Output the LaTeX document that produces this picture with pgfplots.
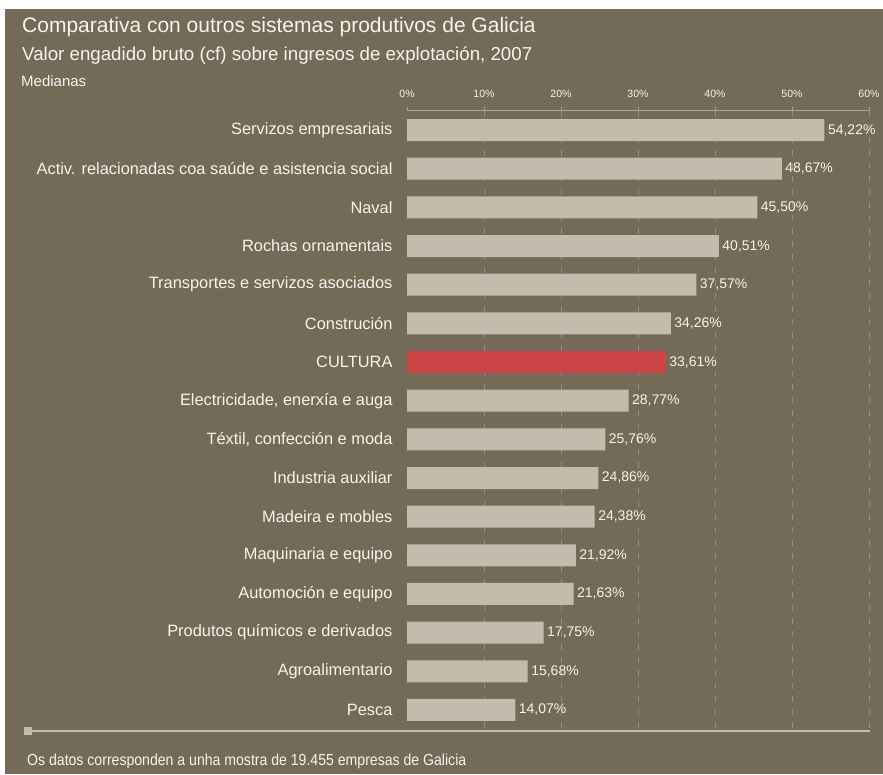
\documentclass[border=0pt]{standalone}
\usepackage{fontspec}
\setmainfont{Liberation Sans}
\newfontfamily\cond[FakeStretch=0.88]{Liberation Sans}
\usepackage{pgfplots}
\pgfplotsset{compat=1.18}
\definecolor{bgc}{RGB}{115,106,87}
\definecolor{barc}{RGB}{194,188,172}
\definecolor{redc}{RGB}{203,68,70}
\definecolor{txtc}{RGB}{246,244,238}
\definecolor{axc}{RGB}{172,165,148}
\definecolor{gridc}{RGB}{150,142,124}
\begin{document}
\begin{tikzpicture}[x=1pt,y=1pt]
\fill[white] (0,0) rectangle (883,774);
\fill[bgc] (5,0) rectangle (883,765);
\node[anchor=base west,text=txtc,font=\fontsize{21}{24}\selectfont,inner sep=0pt] at (22,{774-33}) {Comparativa con outros sistemas produtivos de Galicia};
\node[anchor=base west,text=txtc,font=\fontsize{18.7}{22}\selectfont,inner sep=0pt] at (22,{774-61}) {Valor engadido bruto (cf) sobre ingresos de explotación, 2007};
\node[anchor=base west,text=txtc,font=\fontsize{15}{17}\selectfont,inner sep=0pt] at (21,{774-87}) {Medianas};
\draw[barc,line width=2pt] (24,{774-731}) -- (870,{774-731});
\fill[barc] (24,{774-735}) rectangle (32,{774-727});
\node[anchor=base west,text=txtc,font=\cond\fontsize{16}{18}\selectfont,inner sep=0pt] at (27,{774-765}) {Os datos corresponden a unha mostra de 19.455 empresas de Galicia};
\begin{axis}[
  at={(407pt,44.7pt)}, anchor=south west,
  width=462pt, height=618.6pt, scale only axis,
  xbar, bar width=22pt, bar shift=0pt,
  xmin=0, xmax=60, ymin=-0.5, ymax=15.5, y dir=reverse,
  axis x line*=top, axis y line*=left,
  x axis line style={draw=axc,line width=1.5pt,-},
  y axis line style={draw=none},
  /pgf/number format/assume math mode=true,
  xtick={0,10,20,30,40,50,60},
  xticklabels={0\%,10\%,20\%,30\%,40\%,50\%,60\%},
  tick align=outside, major tick length=4pt,
  x tick style={draw=axc,line width=1pt},
  y tick style={draw=none},
  extra x ticks={10,20,30,40,50,60},
  extra x tick labels={},
  extra x tick style={major tick length=0pt, grid=major, major grid style={draw=gridc,line width=0.9pt,dash pattern=on 6pt off 7pt}},
  x tick label style={font=\fontsize{10.5}{12}\selectfont,text=txtc,yshift=6pt},
  ytick={0,...,15},
  yticklabels={Servizos empresariais,Activ. relacionadas coa saúde e asistencia social,Naval,Rochas ornamentais,Transportes e servizos asociados,Construción,CULTURA,{Electricidade, enerxía e auga},{Téxtil, confección e moda},Industria auxiliar,Madeira e mobles,Maquinaria e equipo,Automoción e equipo,Produtos químicos e derivados,Agroalimentario,Pesca},
  y tick label style={font=\fontsize{16.4}{18}\selectfont,text=txtc,xshift=-7pt},
  nodes near coords={\pgfmathprintnumber[use comma,fixed,fixed zerofill,precision=2,assume math mode=true]{\pgfplotspointmeta}\%},
  point meta=x,
  nodes near coords style={font=\fontsize{14}{16}\selectfont,text=txtc,anchor=west,xshift=0pt},
  clip=false,
]
\addplot[fill=barc,draw=none] coordinates {
(54.22,0) (48.67,1) (45.50,2) (40.51,3) (37.57,4) (34.26,5)
(28.77,7) (25.76,8) (24.86,9) (24.38,10) (21.92,11) (21.63,12)
(17.75,13) (15.68,14) (14.07,15)};
\addplot[fill=redc,draw=none] coordinates {(33.61,6)};
\end{axis}
\end{tikzpicture}
\end{document}
